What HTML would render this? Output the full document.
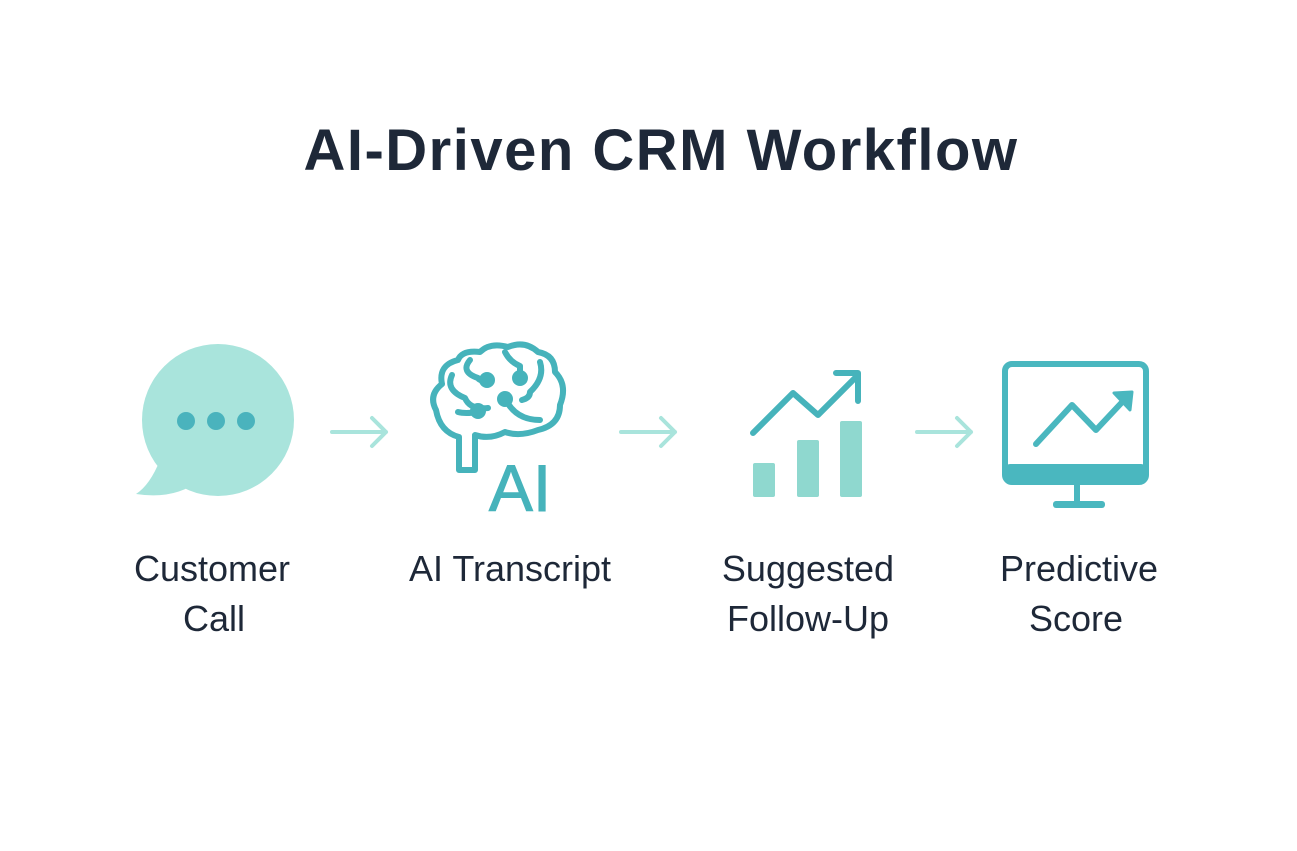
<!DOCTYPE html>
<html><head><style>
body{margin:0;background:#fff;}
svg{display:block}
</style></head><body>
<svg width="1297" height="851" viewBox="0 0 1297 851" xmlns="http://www.w3.org/2000/svg">
<rect width="1297" height="851" fill="#fff"/>
<text x="661" y="170" text-anchor="middle" font-family="Liberation Sans, sans-serif" font-size="58" font-weight="bold" letter-spacing="1.5" fill="#1e2838">AI-Driven CRM Workflow</text>

<!-- bubble -->
<circle cx="218" cy="420" r="76" fill="#a9e4dc"/>
<path d="M160 460 Q150 485 136 494 Q175 500 200 480 Z" fill="#a9e4dc"/>
<circle cx="186" cy="421" r="9" fill="#4ab3bd"/>
<circle cx="216" cy="421" r="9" fill="#4ab3bd"/>
<circle cx="246" cy="421" r="9" fill="#4ab3bd"/>

<!-- arrows -->
<g stroke="#a9e4dc" stroke-width="4" fill="none" stroke-linecap="round" stroke-linejoin="round">
<path d="M332 432 H386 M372 418 L386 432 L372 446"/>
<path d="M621 432 H675 M661 418 L675 432 L661 446"/>
<path d="M917 432 H971 M957 418 L971 432 L957 446"/>
</g>

<!-- brain -->
<g stroke="#46b3bb" stroke-width="6" fill="none" stroke-linecap="round" stroke-linejoin="round">
<path d="M459 470 V437 Q440 432 436 410 Q428 395 442 384 Q438 365 458 360 Q462 350 480 352 Q490 342 508 347 Q525 340 538 352 Q555 355 555 372 Q568 385 560 405 Q560 425 538 430 Q520 437 505 432 Q490 440 475 435 V470 Z"/>
<path d="M452 375 Q445 390 465 398 Q470 410 488 408"/>
<path d="M470 360 Q460 372 478 378 Q480 382 490 380"/>
<path d="M505 352 Q510 362 520 366 V378"/>
<path d="M540 362 Q545 378 530 392 Q530 398 522 400"/>
<path d="M505 398 Q515 420 540 420"/>
<path d="M458 412 Q465 414 478 412"/>
</g>
<g fill="#46b3bb">
<circle cx="487" cy="380" r="8"/>
<circle cx="520" cy="378" r="8"/>
<circle cx="505" cy="399" r="8"/>
<circle cx="478" cy="411" r="8"/>
</g>
<text x="520" y="511" text-anchor="middle" font-family="Liberation Sans, sans-serif" font-size="66" fill="#46b3bb" stroke="#46b3bb" stroke-width="1">AI</text>

<!-- chart -->
<g stroke="#46b3bb" stroke-width="6" fill="none" stroke-linecap="round" stroke-linejoin="round">
<path d="M753 433 L793 393 L818 415 L857 376"/>
<path d="M836 373 H858 V401"/>
</g>
<g fill="#8fd8cf">
<rect x="753" y="463" width="22" height="34" rx="2"/>
<rect x="797" y="440" width="22" height="57" rx="2"/>
<rect x="840" y="421" width="22" height="76" rx="2"/>
</g>

<!-- monitor -->
<rect x="1005" y="364" width="141" height="118" rx="7" fill="none" stroke="#4ab7bf" stroke-width="6"/>
<rect x="1005" y="464" width="141" height="20" rx="5" fill="#4ab7bf"/>
<rect x="1074" y="484" width="6" height="20" fill="#4ab7bf"/>
<rect x="1053" y="501" width="52" height="7" rx="3" fill="#4ab7bf"/>
<g stroke="#4ab7bf" stroke-width="6" fill="none" stroke-linecap="round" stroke-linejoin="round">
<path d="M1036 444 L1072 405 L1096 430 L1126 398"/>
</g>
<path d="M1114 393 L1132 392 L1130 410 Z" fill="#4ab7bf" stroke="#4ab7bf" stroke-width="3" stroke-linejoin="round"/>

<!-- labels -->
<g font-family="Liberation Sans, sans-serif" font-size="36" fill="#1e2838" text-anchor="middle">
<text x="212" y="581">Customer</text>
<text x="214" y="631">Call</text>
<text x="510" y="581">AI Transcript</text>
<text x="808" y="581">Suggested</text>
<text x="808" y="631">Follow-Up</text>
<text x="1079" y="581">Predictive</text>
<text x="1076" y="631">Score</text>
</g>
</svg>
</body></html>
